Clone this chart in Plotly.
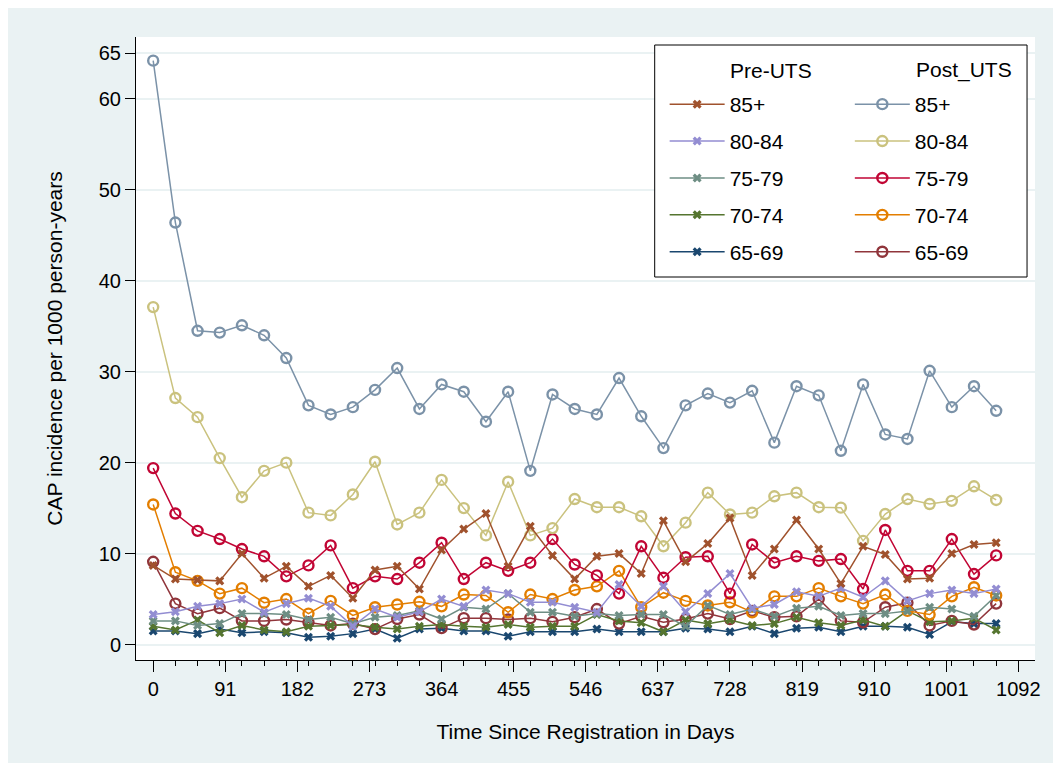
import plotly.graph_objects as go

days = [0, 28, 56, 84, 112, 140, 168, 196, 224, 252, 280, 308, 336, 364, 392, 420,
        448, 476, 504, 532, 560, 588, 616, 644, 672, 700, 728, 756, 784, 812, 840,
        868, 896, 924, 952, 980, 1008, 1036, 1064]

pre_65_69 = [1.5, 1.5, 1.2, 1.7, 1.3, 1.4, 1.3, 0.8, 0.9, 1.2, 1.7, 0.7, 1.7, 1.8, 1.5, 1.5, 0.9, 1.4, 1.4, 1.4,
             1.7, 1.4, 1.4, 1.4, 1.8, 1.7, 1.4, 2.0, 1.2, 1.8, 1.9, 1.4, 2.0, 2.0, 1.9, 1.1, 2.5, 2.3, 2.3]
pre_70_74 = [2.0, 1.6, 2.7, 1.3, 2.1, 1.6, 1.4, 2.0, 2.1, 2.2, 1.9, 1.7, 2.0, 2.2, 2.0, 1.9, 2.2, 1.9, 2.0, 2.0,
             3.3, 2.6, 2.4, 1.4, 2.7, 2.3, 2.7, 2.1, 2.3, 3.0, 2.4, 2.1, 2.7, 2.0, 3.7, 2.5, 2.6, 2.9, 1.6]
pre_75_79 = [2.6, 2.6, 2.1, 2.3, 3.4, 3.4, 3.3, 2.75, 3.0, 2.3, 3.0, 3.2, 3.7, 2.8, 4.1, 3.9, 5.6, 3.55, 3.55, 3.1,
             3.4, 3.2, 3.3, 3.3, 2.0, 4.3, 3.3, 3.9, 3.1, 4.0, 4.2, 3.2, 3.4, 3.4, 3.7, 4.1, 3.9, 3.1, 5.4]
pre_80_84 = [3.3, 3.6, 4.2, 4.5, 5.0, 3.55, 4.5, 5.1, 4.2, 2.0, 3.9, 3.0, 3.6, 5.0, 4.2, 6.0, 5.6, 4.65, 4.65, 4.1,
             3.55, 6.6, 4.2, 6.4, 3.6, 5.6, 7.8, 4.0, 4.4, 5.8, 5.3, 6.2, 5.2, 7.0, 4.8, 5.6, 6.0, 5.6, 6.1]
pre_85 = [8.7, 7.2, 7.1, 7.0, 10.0, 7.3, 8.6, 6.4, 7.6, 5.1, 8.2, 8.6, 6.1, 10.4, 12.7, 14.4, 8.6, 13.0, 9.8, 7.2,
          9.7, 10.0, 7.8, 13.6, 9.1, 11.1, 13.9, 7.6, 10.5, 13.7, 10.5, 6.7, 10.8, 9.9, 7.2, 7.3, 10.0, 11.0, 11.2]

post_65_69 = [9.1, 4.5, 3.4, 4.0, 2.6, 2.6, 2.75, 2.45, 2.1, 2.3, 1.7, 2.8, 3.3, 1.8, 2.9, 2.9, 2.75, 2.9, 2.5, 3.0,
              3.9, 2.3, 3.1, 2.45, 2.8, 3.4, 2.8, 3.7, 3.0, 3.1, 5.0, 2.6, 2.45, 4.1, 4.6, 2.1, 2.6, 2.2, 4.5]
post_70_74 = [15.4, 7.95, 7.0, 5.6, 6.2, 4.6, 5.0, 3.4, 4.8, 3.2, 4.1, 4.4, 4.7, 4.2, 5.5, 5.4, 3.55, 5.5, 5.0, 6.0,
              6.4, 8.1, 4.1, 5.7, 4.8, 4.3, 4.65, 3.55, 5.3, 5.3, 6.2, 5.3, 4.5, 5.5, 3.7, 3.3, 5.3, 6.3, 5.4]
post_75_79 = [19.4, 14.4, 12.5, 11.6, 10.5, 9.7, 7.5, 8.7, 10.9, 6.2, 7.5, 7.2, 9.0, 11.2, 7.2, 9.0, 8.1, 9.0, 11.6, 8.8,
              7.6, 5.6, 10.8, 7.35, 9.6, 9.7, 5.6, 11.0, 9.0, 9.7, 9.2, 9.4, 6.1, 12.6, 8.1, 8.1, 11.6, 7.75, 9.8]
post_80_84 = [37.1, 27.1, 25.0, 20.5, 16.2, 19.1, 20.0, 14.5, 14.2, 16.5, 20.1, 13.2, 14.5, 18.1, 15.0, 12.0, 17.9, 12.0, 12.8, 16.0,
              15.1, 15.1, 14.1, 10.8, 13.4, 16.7, 14.3, 14.5, 16.3, 16.7, 15.1, 15.05, 11.4, 14.35, 16.0, 15.45, 15.8, 17.4, 15.9]
post_85 = [64.2, 46.4, 34.5, 34.3, 35.1, 34.0, 31.5, 26.3, 25.3, 26.1, 28.0, 30.4, 25.9, 28.6, 27.8, 24.5, 27.8, 19.1, 27.5, 25.9,
           25.3, 29.3, 25.1, 21.6, 26.3, 27.6, 26.6, 27.9, 22.2, 28.4, 27.4, 21.3, 28.6, 23.1, 22.6, 30.1, 26.1, 28.4, 25.7]

age_labels = ["85+", "80-84", "75-79", "70-74", "65-69"]
x_ticks = [0, 91, 182, 273, 364, 455, 546, 637, 728, 819, 910, 1001, 1092]
y_ticks = [0, 10, 20, 30, 40, 50, 60, 65]

FONT = "Arial, 'Liberation Sans', sans-serif"
BG = "#EAF2F3"

# figure size (page body adds an 8px white margin around it)
OFF = 8
W, H = 1045, 755
# plot area in screen pixels
SL, SR, ST, SB = 136, 1039, 37, 660
L, R, T, B = SL - OFF, SR - OFF, ST - OFF, SB - OFF


def px(xs):
    return (xs - SL) / (SR - SL)


def py(ys):
    return (SB - ys) / (SB - ST)


# (name, values, color, group, rank) drawn in Stata's p1..p10 order
series = [
    ("65-69", pre_65_69, "#1A476F", "pre", 5),
    ("65-69", post_65_69, "#90353B", "post", 5),
    ("70-74", pre_70_74, "#55752F", "pre", 4),
    ("70-74", post_70_74, "#E37E00", "post", 4),
    ("75-79", pre_75_79, "#6E8E84", "pre", 3),
    ("75-79", post_75_79, "#C10534", "post", 3),
    ("80-84", pre_80_84, "#938DD2", "pre", 2),
    ("80-84", post_80_84, "#CAC27E", "post", 2),
    ("85+", pre_85, "#A0522D", "pre", 1),
    ("85+", post_85, "#7B92A8", "post", 1),
]

fig = go.Figure()
for name, vals, color, grp, rank in series:
    if grp == "pre":
        marker = dict(symbol="x", size=8, color=color, line=dict(width=0))
        leg = "legend"
    else:
        marker = dict(symbol="circle-open", size=10, color=color, line=dict(width=2.4, color=color))
        leg = "legend2"
    fig.add_trace(go.Scatter(
        x=days, y=vals, mode="lines+markers", name=name,
        line=dict(color=color, width=1.5), marker=marker,
        legend=leg, legendgroup=grp + name, legendrank=rank,
    ))

legend_common = dict(
    bgcolor="rgba(0,0,0,0)", borderwidth=0,
    font=dict(family=FONT, size=21, color="black"),
    traceorder="grouped", tracegroupgap=6.6, itemwidth=55,
    xanchor="left", yanchor="top", orientation="v",
)

shapes = [
    dict(type="rect", xref="paper", yref="paper", x0=px(657), x1=px(1031), y0=py(277), y1=py(45),
         line=dict(color="black", width=1), fillcolor="white", layer="above"),
]

annotations = [
    dict(text="Pre-UTS", xref="paper", yref="paper", x=px(731), y=py(70), xanchor="left", yanchor="middle",
         showarrow=False, font=dict(family=FONT, size=21, color="black")),
    dict(text="Post_UTS", xref="paper", yref="paper", x=px(917), y=py(70), xanchor="left", yanchor="middle",
         showarrow=False, font=dict(family=FONT, size=21, color="black")),
]

fig.update_layout(
    width=W, height=H, autosize=False,
    margin=dict(l=L, r=W - R, t=T, b=H - B, pad=0),
    paper_bgcolor=BG, plot_bgcolor="white",
    font=dict(family=FONT, size=20, color="black"),
    showlegend=True,
    legend=dict(x=px(667), y=py(84), **legend_common),
    legend2=dict(x=px(853), y=py(84), **legend_common),
    shapes=shapes,
    annotations=annotations,
    xaxis=dict(
        range=[-21.7, 1113], tickvals=x_ticks, ticktext=[str(v) for v in x_ticks],
        showgrid=False, zeroline=False, showline=True, linecolor="black", linewidth=1,
        ticks="outside", ticklen=11, tickwidth=1, tickcolor="black",
        minor=dict(dtick=28, tick0=0, ticks="outside", ticklen=5, tickwidth=1, tickcolor="black", showgrid=False),
        tickfont=dict(family=FONT, size=20, color="black"),
        title=dict(text="Time Since Registration in Days", font=dict(family=FONT, size=21, color="black"), standoff=25),
    ),
    yaxis=dict(
        range=[-1.7, 66.8], tickvals=y_ticks, ticktext=[str(v) for v in y_ticks],
        showgrid=True, gridcolor=BG, gridwidth=2, zeroline=False,
        showline=True, linecolor="black", linewidth=1,
        ticks="outside", ticklen=10, tickwidth=1, tickcolor="black",
        tickfont=dict(family=FONT, size=20, color="black"),
        title=dict(text="CAP incidence per 1000 person-years", font=dict(family=FONT, size=21, color="black"), standoff=30),
    ),
)

fig.write_html("out.html")
